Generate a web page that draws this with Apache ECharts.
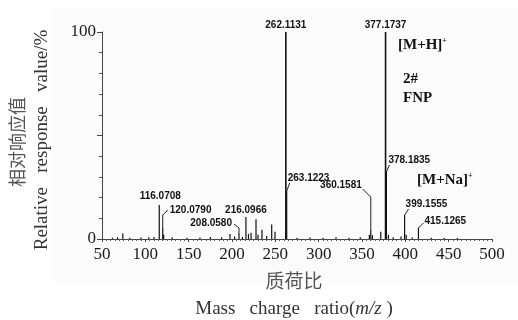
<!DOCTYPE html>
<html>
<head>
<meta charset="utf-8">
<script src="https://cdn.jsdelivr.net/npm/echarts@6/dist/echarts.min.js"></script>
<style>
  html, body { margin: 0; padding: 0; background: #fff; }
  #chart { width: 518px; height: 320px; }
</style>
</head>
<body>
<div id="chart"></div>
<script>
// all peaks: m/z and relative response (%)
const peakMz = [
  62, 68, 74, 82, 95, 104, 110, 116.0708, 120.079, 121.1, 131, 148, 163, 175, 188, 197.7, 203,
  208.058, 212, 216.0966, 219, 222, 227.7, 230, 234.6, 240, 245.8, 249.6, 262.1131, 263.1223,
  275, 290, 305, 320, 335, 348, 358.5, 360.1581, 362, 371.6, 377.1737, 378.1835, 380.5, 386,
  395, 399.1555, 401, 408, 415.1265, 430, 445, 460
];
const peakIntensity = [
  0.6, 0.8, 2.6, 0.6, 0.7, 0.8, 1.0, 16.4, 5.3, 2.0, 0.8, 0.6, 0.7, 1.0, 0.8, 2.4, 1.2,
  2.9, 1.0, 10.6, 2.5, 3.0, 9.5, 2.0, 4.5, 1.5, 7.0, 3.5, 100, 23.2,
  0.6, 0.7, 0.6, 0.8, 0.6, 0.8, 2.0, 4.3, 1.8, 3.5, 100, 32.4, 2.0, 0.8,
  1.2, 11.6, 2.0, 0.7, 5.3, 0.6, 0.5, 0.5
];

// labelled ions
const labelMz = [116.0708, 120.0790, 208.0580, 216.0966, 262.1131, 263.1223, 360.1581, 377.1737, 378.1835, 399.1555, 415.1265];
const labelIntensity = [16.4, 5.3, 2.9, 10.6, 100, 23.2, 4.3, 100, 32.4, 11.6, 5.3];
const labelText = labelMz.map(v => v.toFixed(4));

const yLabelValues = [0, 100];

// where each label sits relative to its peak top (px), and its leader line
const labelLayout = [
  { tx: 1, ty: -9, align: "center" },
  { tx: 7, ty: -18, align: "left", leader: [[0, 0], [0, -13], [5, -18]] },
  { tx: -7, ty: -10, align: "right", leader: [[0, 0], [0, -5], [-5, -9]] },
  { tx: 0, ty: -7, align: "center" },
  { tx: 0, ty: -7, align: "center" },
  { tx: 1, ty: -13, align: "left", leader: [[0, 0], [3, -8]] },
  { tx: -9, ty: -45, align: "right", leader: [[0, 0], [0, -33], [-8, -41]] },
  { tx: 0, ty: -7, align: "center" },
  { tx: 2, ty: -12, align: "left", leader: [[0, 0], [3, -7]] },
  { tx: 1, ty: -11, align: "left", leader: [[0, 0], [4, -6]] },
  { tx: 6, ty: -7, align: "left", leader: [[0, 0], [5, -5]] },
];

const SERIF = "'Liberation Serif', 'DejaVu Serif', serif";
const SANS = "'Liberation Sans', Arial, sans-serif";
const CJK = "'Noto Sans CJK SC', sans-serif";
const INK = "#1a1a1a";

const chart = echarts.init(document.getElementById("chart"));

const option = {
  animation: false,
  backgroundColor: "#fff",
  grid: { left: 102, right: 26, top: 32, bottom: 81 },
  xAxis: {
    type: "value",
    min: 50,
    max: 500,
    interval: 50,
    axisLine: { show: true, lineStyle: { color: "#444", width: 1 } },
    axisTick: { show: true, length: 3, lineStyle: { color: "#444" } },
    minorTick: { show: true, splitNumber: 10, length: 2, lineStyle: { color: "#555" } },
    splitLine: { show: false },
    axisLabel: { color: INK, fontFamily: SERIF, fontSize: 17, margin: 7 },
  },
  yAxis: {
    type: "value",
    min: 0,
    max: 100,
    interval: 50,
    axisLine: { show: true, lineStyle: { color: "#444", width: 1 } },
    axisTick: { show: true, length: 5, lineStyle: { color: "#444" } },
    minorTick: { show: true, splitNumber: 5, length: 3, lineStyle: { color: "#555" } },
    splitLine: { show: false },
    axisLabel: {
      color: INK,
      fontFamily: SERIF,
      fontSize: 17,
      margin: 6,
      formatter: v => (yLabelValues.includes(v) ? String(v) : ""),
    },
  },
  series: [
    {
      type: "custom",
      name: "peaks",
      data: peakMz.map((mz, i) => [mz, peakIntensity[i]]),
      renderItem: (params, api) => {
        const top = api.coord([api.value(0), api.value(1)]);
        const base = api.coord([api.value(0), 0]);
        return {
          type: "line",
          shape: { x1: base[0], y1: base[1], x2: top[0], y2: top[1] },
          style: { stroke: "#111", lineWidth: api.value(1) > 50 ? 1.6 : 1.2 },
        };
      },
    },
    {
      type: "custom",
      name: "labels",
      data: labelMz.map((mz, i) => [mz, labelIntensity[i]]),
      renderItem: (params, api) => {
        const p = api.coord([api.value(0), api.value(1)]);
        const lay = labelLayout[params.dataIndex];
        const children = [];
        if (lay.leader) {
          children.push({
            type: "polyline",
            shape: { points: lay.leader.map(d => [p[0] + d[0], p[1] + d[1]]) },
            style: { stroke: "#222", lineWidth: 1, fill: null },
          });
        }
        children.push({
          type: "text",
          x: p[0] + lay.tx,
          y: p[1] + lay.ty,
          style: {
            text: labelText[params.dataIndex],
            fill: "#111",
            font: "bold 10px " + SANS,
            align: lay.align,
            verticalAlign: "middle",
          },
        });
        return { type: "group", children };
      },
    },
  ],
  graphic: [
    {
      type: "rect",
      z: -10,
      silent: true,
      shape: { x: 53, y: 8, width: 465, height: 275 },
      style: { fill: "#fbfbfb" },
    },
    {
      type: "text",
      x: 17, y: 142, rotation: Math.PI / 2,
      style: { text: "相对响应值", font: "18px " + CJK, fill: "#555", align: "center", verticalAlign: "middle" },
    },
    {
      type: "text",
      x: 42, y: 140, rotation: Math.PI / 2,
      style: { text: "Relative   response   value/%", font: "19px " + SERIF, fill: "#333", align: "center", verticalAlign: "middle" },
    },
    {
      type: "text",
      x: 294, y: 281,
      style: { text: "质荷比", font: "19px " + CJK, fill: "#555", align: "center", verticalAlign: "middle" },
    },
    {
      type: "text",
      x: 294, y: 309,
      style: {
        text: "Mass   charge   ratio({i|m/z} )",
        font: "19px " + SERIF, fill: "#333", align: "center", verticalAlign: "middle",
        rich: { i: { fontFamily: SERIF, fontSize: 19, fontStyle: "italic", fill: "#333" } },
      },
    },
    {
      type: "text",
      x: 398, y: 45,
      style: {
        text: "[M+H]{s|+}",
        font: "bold 15px " + SERIF, fill: "#111", align: "left", verticalAlign: "middle",
        rich: { s: { fontSize: 8, fontFamily: SERIF, fontWeight: "bold", fill: "#111", padding: [0, 0, 8, 0] } },
      },
    },
    {
      type: "text",
      x: 403, y: 79,
      style: { text: "2#", font: "bold 15px " + SERIF, fill: "#111", align: "left", verticalAlign: "middle" },
    },
    {
      type: "text",
      x: 403, y: 98,
      style: { text: "FNP", font: "bold 15px " + SERIF, fill: "#111", align: "left", verticalAlign: "middle" },
    },
    {
      type: "text",
      x: 417, y: 180,
      style: {
        text: "[M+Na]{s|+}",
        font: "bold 15px " + SERIF, fill: "#111", align: "left", verticalAlign: "middle",
        rich: { s: { fontSize: 8, fontFamily: SERIF, fontWeight: "bold", fill: "#111", padding: [0, 0, 8, 0] } },
      },
    },
  ],
};

chart.setOption(option);
</script>
</body>
</html>
